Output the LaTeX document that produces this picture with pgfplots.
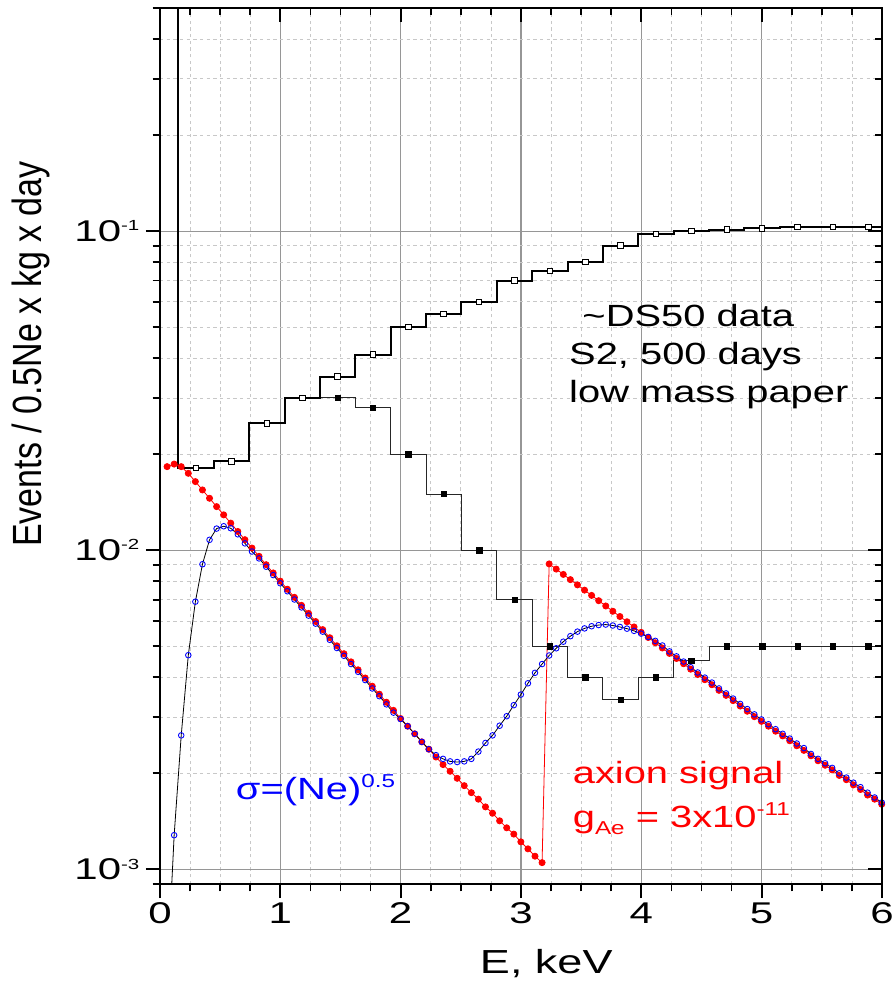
\documentclass[border=0pt]{standalone}
\usepackage{pgfplots}
\pgfplotsset{compat=1.18}
\usepackage{fontspec}
\setmainfont{Liberation Sans}
\newcommand{\sups}[2][8pt]{\raisebox{#1}{\fontsize{11}{11}\selectfont #2}}
\definecolor{mygrid}{RGB}{150,150,150}
\definecolor{myminor}{RGB}{200,200,200}
\begin{document}
\begin{tikzpicture}
\begin{axis}[
  name=main,
  scale only axis, width=541.5pt, height=657pt,
  xmin=0, xmax=6, ymode=log, ymin=9e-4, ymax=0.5,
  xtick={0,1,2,3,4,5,6}, minor x tick num=3,
  ytick={1e-3,1e-2,1e-1},
  minor ytick={9e-4,2e-3,3e-3,4e-3,5e-3,6e-3,7e-3,8e-3,9e-3,2e-2,3e-2,4e-2,5e-2,6e-2,7e-2,8e-2,9e-2,0.2,0.3,0.4,0.5},
  yticklabels={10\sups{-3},10\sups{-2},10\sups{-1}},
  grid=both,
  major grid style={draw=mygrid, line width=0.8pt},
  minor grid style={draw=myminor, dash pattern=on 2.5pt off 2.5pt, line width=0.6pt},
  axis line style={line width=2.2pt},
  tick style={line width=1.6pt, black},
  minor tick style={line width=1.3pt},
  major tick length=10.5pt, minor tick length=5.5pt,
  tick align=outside, xtick pos=left, ytick pos=left,
  /pgf/number format/assume math mode=true,
  xticklabel style={font=\fontsize{22.5}{27}\selectfont, xscale=1.4},
  yticklabel style={font=\fontsize{22.5}{27}\selectfont, xscale=1.4},
  xlabel={E, keV}, ylabel={Events / 0.5Ne x kg x day},
  xlabel style={font=\fontsize{25}{30}\selectfont, xscale=1.35, at={(axis description cs:0.535,-0.1016)}, anchor=base},
  ylabel style={font=\fontsize{25.5}{30}\selectfont, yscale=1.2, at={(axis description cs:-0.1787,0.605)}, anchor=center},
]
% filled-square histogram
\addplot[const plot, black!85, line width=0.75pt] coordinates {
(1.329,0.030)(1.623,0.028)(1.917,0.020)(2.211,0.015)(2.505,0.010)(2.799,0.0070)(3.093,0.0050)(3.387,0.0040)(3.681,0.0034)(3.975,0.0040)(4.269,0.0045)(4.563,0.0050)(4.857,0.0050)(5.151,0.0050)(5.445,0.0050)(5.739,0.0050)(6.033,0.0050)};
\addplot[only marks, mark=square*, mark size=2pt, black] coordinates {
(1.476,0.030)(1.770,0.028)(2.064,0.020)(2.358,0.015)(2.652,0.010)(2.946,0.0070)(3.240,0.0050)(3.534,0.0040)(3.828,0.0034)(4.122,0.0040)(4.416,0.0045)(4.710,0.0050)(5.004,0.0050)(5.298,0.0050)(5.592,0.0050)(5.886,0.0050)};
% open-square histogram
\addplot[const plot, black, line width=1.5pt] coordinates {
(0.153,2)(0.153,0.0181)(0.447,0.019)(0.741,0.025)(1.035,0.030)(1.329,0.035)(1.623,0.041)(1.917,0.050)(2.211,0.055)(2.505,0.060)(2.799,0.070)(3.093,0.075)(3.387,0.080)(3.681,0.090)(3.975,0.098)(4.269,0.100)(4.563,0.101)(4.857,0.102)(5.151,0.103)(5.445,0.103)(5.739,0.103)(6.033,0.103)};
\addplot[only marks, mark=square*, mark size=2.1pt, mark options={draw=black, fill=white, line width=0.7pt}] coordinates {
(0.300,0.0181)(0.594,0.019)(0.888,0.025)(1.182,0.030)(1.476,0.035)(1.770,0.041)(2.064,0.050)(2.358,0.055)(2.652,0.060)(2.946,0.070)(3.240,0.075)(3.534,0.080)(3.828,0.090)(4.122,0.098)(4.416,0.100)(4.710,0.101)(5.004,0.102)(5.298,0.103)(5.592,0.103)(5.886,0.103)};
% axion signal
\addplot[red, line width=0.6pt, mark=*, mark size=2.3pt, mark options={fill=red, draw=red}] coordinates {
(0.0588,0.01828)(0.1176,0.01862)(0.1764,0.01828)(0.2352,0.01742)(0.2940,0.01641)(0.3528,0.01545)(0.4116,0.01455)(0.4704,0.01370)(0.5292,0.01291)(0.5880,0.01216)
(0.6468,0.01145)(0.7056,0.01079)(0.7644,0.01016)(0.8232,0.00957)(0.8820,0.00901)(0.9408,0.00849)(0.9996,0.00800)(1.0584,0.00755)(1.1172,0.00712)(1.1760,0.00672)
(1.2348,0.00634)(1.2936,0.00598)(1.3524,0.00564)(1.4112,0.00532)(1.4700,0.00502)(1.5288,0.00474)(1.5876,0.00447)(1.6464,0.00422)(1.7052,0.00398)(1.7640,0.00375)
(1.8228,0.00354)(1.8816,0.00334)(1.9404,0.00315)(1.9992,0.00297)(2.0580,0.00281)(2.1168,0.00266)(2.1756,0.00251)(2.2344,0.00238)(2.2932,0.00225)(2.3520,0.00213)
(2.4108,0.00203)(2.4696,0.00193)(2.5284,0.00183)(2.5872,0.00174)(2.6460,0.00166)(2.7048,0.00157)(2.7636,0.00150)(2.8224,0.00142)(2.8812,0.00135)(2.9400,0.00129)
(2.9988,0.00122)(3.0576,0.00116)(3.1164,0.00110)(3.1752,0.00105)
(3.2340,0.00906)(3.2928,0.00873)(3.3516,0.00840)(3.4104,0.00809)(3.4692,0.00779)(3.5280,0.00750)(3.5868,0.00722)(3.6456,0.00695)(3.7044,0.00669)(3.7632,0.00644)
(3.8220,0.00620)(3.8808,0.00597)(3.9396,0.00575)(3.9984,0.00553)(4.0572,0.00533)(4.1160,0.00513)(4.1748,0.00494)(4.2336,0.00475)(4.2924,0.00458)(4.3512,0.00441)
(4.4100,0.00424)(4.4688,0.00408)(4.5276,0.00393)(4.5864,0.00379)(4.6452,0.00364)(4.7040,0.00351)(4.7628,0.00338)(4.8216,0.00325)(4.8804,0.00313)(4.9392,0.00301)
(4.9980,0.00291)(5.0568,0.00281)(5.1156,0.00271)(5.1744,0.00262)(5.2332,0.00253)(5.2920,0.00244)(5.3508,0.00236)(5.4096,0.00227)(5.4684,0.00219)(5.5272,0.00212)
(5.5860,0.00205)(5.6448,0.00197)(5.7036,0.00191)(5.7624,0.00184)(5.8212,0.00178)(5.8800,0.00171)(5.9388,0.00166)(5.9976,0.00160)};
% smeared signal sigma=(Ne)^0.5
\addplot[black, line width=0.6pt, mark=o, mark size=2.1pt, mark options={draw=blue, fill=white, line width=0.65pt}] coordinates {
(0.0588,0.00045)(0.1176,0.00128)(0.1764,0.00263)(0.2352,0.00469)(0.2940,0.0069)(0.3528,0.00904)(0.4116,0.01078)(0.4704,0.01169)(0.5292,0.01189)(0.5880,0.01172)
(0.6468,0.01122)(0.7056,0.01051)(0.7644,0.00991)(0.8232,0.00943)(0.8820,0.00888)(0.9408,0.00836)(0.9996,0.00788)(1.0584,0.00744)(1.1172,0.00701)(1.1760,0.00662)
(1.2348,0.00624)(1.2936,0.00589)(1.3524,0.00556)(1.4112,0.00524)(1.4700,0.00494)(1.5288,0.00467)(1.5876,0.00440)(1.6464,0.00416)(1.7052,0.00392)(1.7640,0.00369)
(1.8228,0.00349)(1.8816,0.00329)(1.9404,0.00310)(1.9992,0.00296)(2.0580,0.00281)(2.1168,0.00266)(2.1756,0.00251)(2.2344,0.00238)(2.2932,0.00228)(2.3520,0.00222)
(2.4108,0.00218)(2.4696,0.00217)(2.5284,0.00218)(2.5872,0.00222)(2.6460,0.00234)(2.7048,0.00249)(2.7636,0.00263)(2.8224,0.00282)(2.8812,0.00302)(2.9400,0.00327)
(2.9988,0.00353)(3.0576,0.00383)(3.1164,0.00413)(3.1752,0.00440)(3.2340,0.00468)(3.2928,0.00493)(3.3516,0.00517)(3.4104,0.00538)(3.4692,0.00556)(3.5280,0.00569)
(3.5868,0.00578)(3.6456,0.00583)(3.7044,0.00585)(3.7632,0.00581)(3.8220,0.00575)(3.8808,0.00568)(3.9396,0.00559)(3.9984,0.00548)(4.0572,0.00535)(4.1160,0.00520)
(4.1748,0.00503)(4.2336,0.00482)(4.2924,0.00465)(4.3512,0.00448)(4.4100,0.00430)(4.4688,0.00414)(4.5276,0.00399)(4.5864,0.00385)(4.6452,0.00369)(4.7040,0.00356)
(4.7628,0.00343)(4.8216,0.00330)(4.8804,0.00318)(4.9392,0.00306)(4.9980,0.00295)(5.0568,0.00285)(5.1156,0.00275)(5.1744,0.00266)(5.2332,0.00257)(5.2920,0.00248)
(5.3508,0.00240)(5.4096,0.00230)(5.4684,0.00222)(5.5272,0.00215)(5.5860,0.00208)(5.6448,0.00200)(5.7036,0.00194)(5.7624,0.00187)(5.8212,0.00181)(5.8800,0.00174)
(5.9388,0.00168)(5.9976,0.00162)};
% annotations
\node[anchor=base west, font=\fontsize{23}{27}\selectfont, xscale=1.3] at (axis cs:3.46,0.0502) {\textasciitilde DS50 data};
\node[anchor=base west, font=\fontsize{23}{27}\selectfont, xscale=1.3] at (axis cs:3.35,0.0382) {S2, 500 days};
\node[anchor=base west, font=\fontsize{23}{27}\selectfont, xscale=1.3] at (axis cs:3.35,0.0290) {low mass paper};
\node[anchor=base west, font=\fontsize{23}{27}\selectfont, xscale=1.3, text=red] at (axis cs:3.38,0.001857) {axion signal};
\node[anchor=base west, font=\fontsize{23}{27}\selectfont, xscale=1.3, text=red] at (axis cs:3.38,0.001351) {g\raisebox{-5pt}{\fontsize{14}{14}\selectfont Ae} = 3x10\sups[9pt]{\fontsize{14}{14}\selectfont -11}};
\node[anchor=base west, font=\fontsize{23}{27}\selectfont, xscale=1.3, text=blue] at (axis cs:0.58,0.001655) {σ=(Ne)\sups[9pt]{\fontsize{14}{14}\selectfont 0.5}};
\end{axis}
\begin{axis}[
  scale only axis, width=541.5pt, height=657pt,
  xmin=0, xmax=6, ymode=log, ymin=9e-4, ymax=0.5,
  xtick={0,1,2,3,4,5,6}, minor x tick num=3,
  ytick={1e-3,1e-2,1e-1},
  minor ytick={9e-4,2e-3,3e-3,4e-3,5e-3,6e-3,7e-3,8e-3,9e-3,2e-2,3e-2,4e-2,5e-2,6e-2,7e-2,8e-2,9e-2,0.2,0.3,0.4,0.5},
  xticklabels={}, yticklabels={},
  axis line style={line width=2.2pt},
  tick style={line width=1.6pt, black},
  minor tick style={line width=1.3pt},
  major tick length=10.5pt, minor tick length=5.5pt,
  tick align=inside, xtick pos=right, ytick pos=right,
]
\end{axis}
\pgfresetboundingbox
\path ([shift={(-120pt,-73.5pt)}]main.south west) rectangle ([shift={(8.25pt,6pt)}]main.north east);
\end{tikzpicture}
\end{document}
